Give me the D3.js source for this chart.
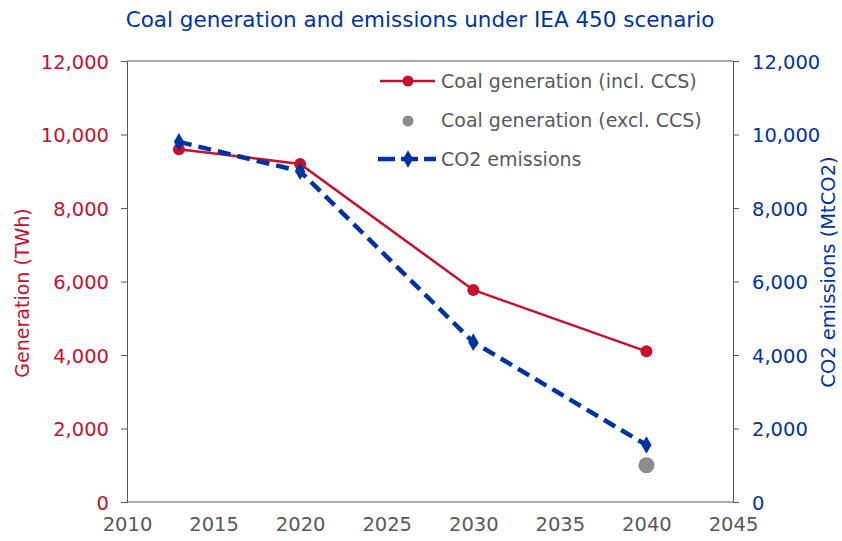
<!DOCTYPE html>
<html>
<head>
<meta charset="utf-8">
<script src="https://cdn.jsdelivr.net/npm/d3@7"></script>
<style>
  body { margin: 0; background: #fff; }
  text { font-family: "DejaVu Sans", Verdana, sans-serif; }
</style>
</head>
<body>
<div id="chart"></div>
<script>
// data
var years      = [2013, 2020, 2030, 2040];
var genIncl    = [9600, 9200, 5770, 4100];   // TWh, red line
var genExclYr  = [2040];
var genExcl    = [1000];                     // TWh, grey dot
var co2        = [9800, 9000, 4350, 1550];   // MtCO2, blue dashed
var xTicks     = [2010, 2015, 2020, 2025, 2030, 2035, 2040, 2045];
var yTicks     = [0, 2000, 4000, 6000, 8000, 10000, 12000];

var W = 842, H = 541;
var margin = {top: 61, right: 109, bottom: 39, left: 127};
var width = W - margin.left - margin.right,
    height = H - margin.top - margin.bottom;

var red = '#c8102e', blue = '#0033a0', grey = '#8c8c8c', axisCol = '#595959';

var svg = d3.select('#chart').append('svg')
  .attr('width', W)
  .attr('height', H);

var g = svg.append('g')
  .attr('transform', 'translate(' + margin.left + ',' + margin.top + ')');

var x = d3.scaleLinear().domain([2010, 2045]).range([0, width]);
var yL = d3.scaleLinear().domain([0, 12000]).range([height, 0]);
var yR = d3.scaleLinear().domain([0, 12000]).range([height, 0]);

var fmt = d3.format(',');

// top border
g.append('line')
  .attr('x1', 0).attr('x2', width)
  .attr('y1', 0).attr('y2', 0)
  .attr('stroke', axisCol);

// axes
var left = g.append('g')
  .call(d3.axisLeft(yL).tickValues(yTicks).tickFormat(fmt).tickSize(6).tickPadding(12));
var right = g.append('g')
  .attr('transform', 'translate(' + width + ',0)')
  .call(d3.axisRight(yR).tickValues(yTicks).tickFormat(fmt).tickSize(6).tickPadding(13));
var bottom = g.append('g')
  .attr('transform', 'translate(0,' + height + ')')
  .call(d3.axisBottom(x).tickValues(xTicks).tickFormat(d3.format('d')).tickSize(0).tickPadding(15));

[left, right, bottom].forEach(function(a){
  a.select('.domain').attr('stroke', axisCol);
  a.selectAll('.tick line').attr('stroke', axisCol);
  a.selectAll('text').style('font-size', '19.5px').style('font-family', '"DejaVu Sans", Verdana, sans-serif');
});
left.selectAll('text').attr('fill', red).attr('dy', '0.36em');
right.selectAll('text').attr('fill', blue).attr('dy', '0.36em');
bottom.selectAll('text').attr('fill', axisCol);
bottom.select('.domain').attr('d', 'M0,0H' + width);

// series
var lineL = d3.line()
  .x(function(d){ return x(d[0]); })
  .y(function(d){ return yL(d[1]); });
var lineR = d3.line()
  .x(function(d){ return x(d[0]); })
  .y(function(d){ return yR(d[1]); });

var redData = years.map(function(y, i){ return [y, genIncl[i]]; });
var blueData = years.map(function(y, i){ return [y, co2[i]]; });

g.append('path')
  .datum(redData)
  .attr('d', lineL)
  .attr('fill', 'none')
  .attr('stroke', red)
  .attr('stroke-width', 2.5);

g.selectAll('.red-dot')
  .data(redData)
.enter().append('circle')
  .attr('class', 'red-dot')
  .attr('cx', function(d){ return x(d[0]); })
  .attr('cy', function(d){ return yL(d[1]); })
  .attr('r', 6)
  .attr('fill', red);

g.selectAll('.grey-dot')
  .data(genExclYr.map(function(y, i){ return [y, genExcl[i]]; }))
.enter().append('circle')
  .attr('class', 'grey-dot')
  .attr('cx', function(d){ return x(d[0]); })
  .attr('cy', function(d){ return yL(d[1]); })
  .attr('r', 8)
  .attr('fill', grey);

g.append('path')
  .datum(blueData)
  .attr('d', lineR)
  .attr('fill', 'none')
  .attr('stroke', blue)
  .attr('stroke-width', 4.5)
  .attr('stroke-dasharray', '13,7');

var diamond = d3.symbol().type(d3.symbolDiamond).size(90);
g.selectAll('.blue-dot')
  .data(blueData)
.enter().append('path')
  .attr('class', 'blue-dot')
  .attr('d', diamond)
  .attr('transform', function(d){ return 'translate(' + x(d[0]) + ',' + yR(d[1]) + ')'; })
  .attr('fill', blue);

// legend
var legend = svg.append('g').attr('transform', 'translate(380,0)');
var lx = 28; // marker centre offset

legend.append('line')
  .attr('x1', 0).attr('x2', 55).attr('y1', 81).attr('y2', 81)
  .attr('stroke', red).attr('stroke-width', 2.5);
legend.append('circle').attr('cx', lx).attr('cy', 81).attr('r', 5.5).attr('fill', red);

legend.append('circle').attr('cx', lx).attr('cy', 121).attr('r', 5.5).attr('fill', grey);

legend.append('line')
  .attr('x1', -2).attr('x2', 56).attr('y1', 159).attr('y2', 159)
  .attr('stroke', blue).attr('stroke-width', 4.5).attr('stroke-dasharray', '17,6');
legend.append('path')
  .attr('d', diamond)
  .attr('transform', 'translate(' + lx + ',159)')
  .attr('fill', blue);

var legendLabels = ['Coal generation (incl. CCS)', 'Coal generation (excl. CCS)', 'CO2 emissions'];
legend.selectAll('.leg-text')
  .data(legendLabels)
.enter().append('text')
  .attr('class', 'leg-text')
  .attr('x', 61)
  .attr('y', function(d, i){ return 81 + i * 39; })
  .attr('dy', '0.35em')
  .attr('fill', axisCol)
  .style('font-size', '19px')
  .text(function(d){ return d; });

// titles
svg.append('text')
  .attr('x', 420)
  .attr('y', 27)
  .attr('text-anchor', 'middle')
  .attr('fill', blue)
  .style('font-size', '21.5px')
  .text('Coal generation and emissions under IEA 450 scenario');

svg.append('text')
  .attr('transform', 'translate(29,293) rotate(-90)')
  .attr('text-anchor', 'middle')
  .attr('fill', red)
  .style('font-size', '19px')
  .text('Generation (TWh)');

svg.append('text')
  .attr('transform', 'translate(835,272) rotate(-90)')
  .attr('text-anchor', 'middle')
  .attr('fill', blue)
  .style('font-size', '19.5px')
  .text('CO2 emissions (MtCO2)');
</script>
</body>
</html>
